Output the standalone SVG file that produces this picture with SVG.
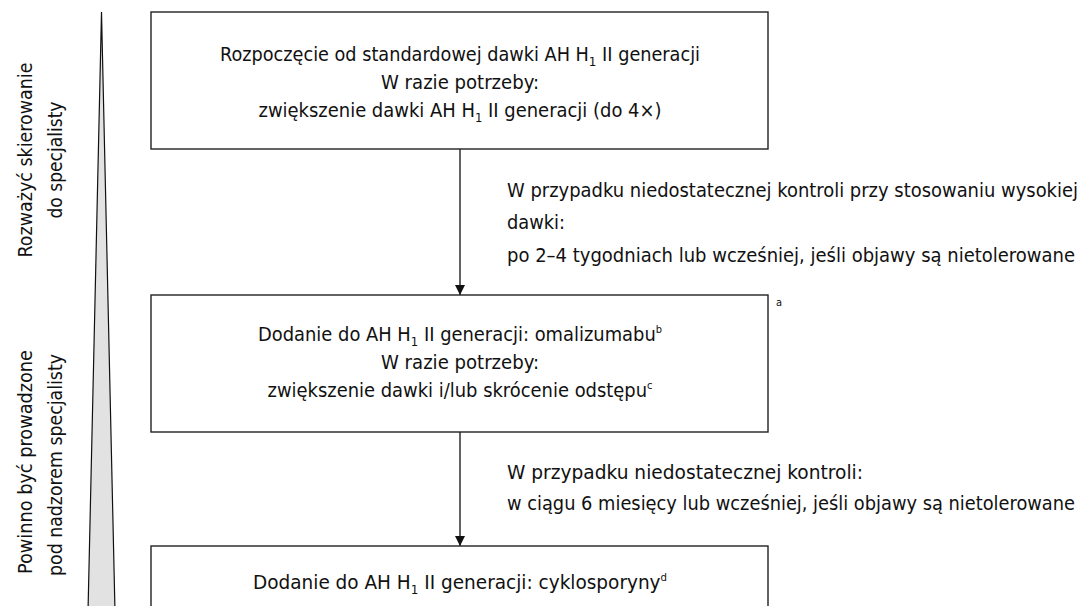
<svg xmlns="http://www.w3.org/2000/svg" width="1081" height="606" viewBox="0 0 1081 606">
<defs>
<style>
.t{font-family:"DejaVu Sans Condensed","Liberation Sans Narrow","Liberation Sans",sans-serif;font-stretch:condensed;font-size:20px;fill:#111}
.c{text-anchor:middle}
.box{fill:#fff;stroke:#222;stroke-width:1.4}
.sub{font-size:13px}
.sup{font-size:11px}
.conn{stroke:#222;stroke-width:1.4;fill:none}
</style>
<marker id="ah" viewBox="0 0 10 10" refX="10" refY="5" markerWidth="12" markerHeight="10" markerUnits="userSpaceOnUse" orient="auto">
<path d="M0,0 L10,5 L0,10 z" fill="#111"/>
</marker>
</defs>
<rect width="1081" height="606" fill="#fff"/>
<g id="scale">
<polygon points="101.5,12 115,612 88,612" fill="#e2e2e2" stroke="#111" stroke-width="1.2"/>
<text class="t c" transform="translate(32,160) rotate(-90)" textLength="195" lengthAdjust="spacingAndGlyphs">Rozważyć skierowanie</text>
<text class="t c" transform="translate(62,160) rotate(-90)" textLength="117" lengthAdjust="spacingAndGlyphs">do specjalisty</text>
<text class="t c" transform="translate(32,462) rotate(-90)" textLength="224" lengthAdjust="spacingAndGlyphs">Powinno być prowadzone</text>
<text class="t c" transform="translate(62,465) rotate(-90)" textLength="222" lengthAdjust="spacingAndGlyphs">pod nadzorem specjalisty</text>
</g>
<g id="connectors">
<line class="conn" x1="460" y1="149" x2="460" y2="295" marker-end="url(#ah)"/>
<line class="conn" x1="460" y1="432" x2="460" y2="546" marker-end="url(#ah)"/>
<text class="t" x="507" y="197" textLength="571" lengthAdjust="spacingAndGlyphs">W przypadku niedostatecznej kontroli przy stosowaniu wysokiej</text>
<text class="t" x="507" y="229" textLength="58" lengthAdjust="spacingAndGlyphs">dawki:</text>
<text class="t" x="507" y="262" textLength="568" lengthAdjust="spacingAndGlyphs">po 2–4 tygodniach lub wcześniej, jeśli objawy są nietolerowane</text>
<text class="t" x="507" y="479" textLength="356" lengthAdjust="spacingAndGlyphs">W przypadku niedostatecznej kontroli:</text>
<text class="t" x="507" y="510" textLength="568" lengthAdjust="spacingAndGlyphs">w ciągu 6 miesięcy lub wcześniej, jeśli objawy są nietolerowane</text>
</g>
<g id="node1">
<rect class="box" x="151" y="12" width="617" height="137"/>
<text class="t c" x="460" y="61" style="font-size:19.2px" textLength="480" lengthAdjust="spacingAndGlyphs">Rozpoczęcie od standardowej dawki AH H<tspan class="sub" dy="5">1</tspan><tspan dy="-5"> II generacji</tspan></text>
<text class="t c" x="460" y="89" textLength="158" lengthAdjust="spacingAndGlyphs">W razie potrzeby:</text>
<text class="t c" x="460" y="117" textLength="403" lengthAdjust="spacingAndGlyphs">zwiększenie dawki AH H<tspan class="sub" dy="5">1</tspan><tspan dy="-5"> II generacji (do 4×)</tspan></text>
</g>
<g id="node2">
<rect class="box" x="151" y="295" width="617" height="137"/>
<text class="t" x="776" y="306" style="font-size:11px">a</text>
<text class="t c" x="460" y="341" textLength="404" lengthAdjust="spacingAndGlyphs">Dodanie do AH H<tspan class="sub" dy="5">1</tspan><tspan dy="-5"> II generacji: omalizumabu</tspan><tspan class="sup" dy="-8">b</tspan></text>
<text class="t c" x="460" y="369" textLength="158" lengthAdjust="spacingAndGlyphs">W razie potrzeby:</text>
<text class="t c" x="460" y="397" textLength="385" lengthAdjust="spacingAndGlyphs">zwiększenie dawki i/lub skrócenie odstępu<tspan class="sup" dy="-8">c</tspan></text>
</g>
<g id="node3">
<rect class="box" x="151" y="546" width="617" height="100"/>
<text class="t c" x="460" y="589" textLength="414" lengthAdjust="spacingAndGlyphs">Dodanie do AH H<tspan class="sub" dy="5">1</tspan><tspan dy="-5"> II generacji: cyklosporyny</tspan><tspan class="sup" dy="-8">d</tspan></text>
</g>
</svg>
